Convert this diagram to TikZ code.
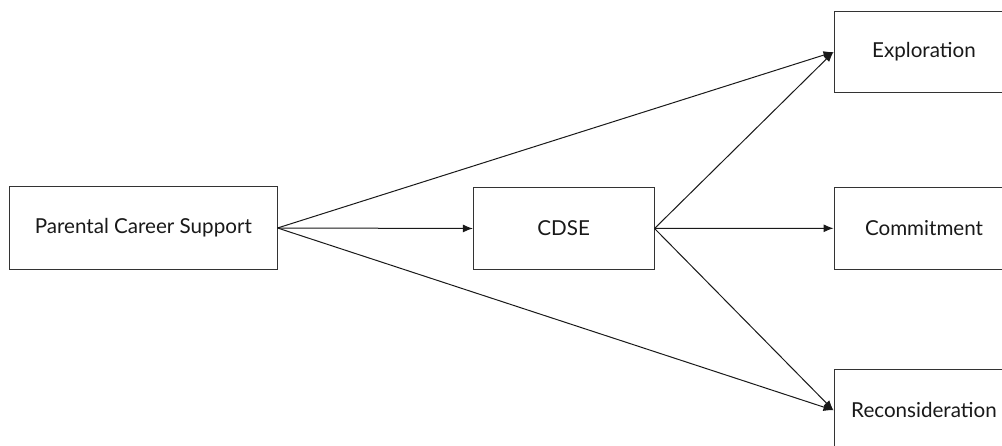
\documentclass[tikz,border=0pt]{standalone}
\usepackage{fontspec}
\setmainfont{Lato}
\usetikzlibrary{arrows.meta}
\begin{document}
\begin{tikzpicture}[x=1pt,y=1pt,
  box/.style={draw=black!80, line width=1pt, fill=white, inner sep=0pt,
    font=\fontsize{20.6}{24}\selectfont, text=black!90},
  link/.style={draw=black!90, line width=1pt, -{Latex[length=10pt,width=8pt]}}]
\useasboundingbox (0,0) rectangle (1002,446);
% boxes (y measured upward from the bottom edge)
\node[box, minimum width=267.5pt, minimum height=83pt] (pcs) at (143.3,218) {Parental Career Support};
\node[box, minimum width=180.7pt, minimum height=81.6pt] (cdse) at (563.7,217.5) {CDSE};
\node[box, minimum width=180pt, minimum height=80.3pt] (expl) at (924,394) {Exploration};
\node[box, minimum width=180pt, minimum height=82pt] (comm) at (924,217.7) {Commitment};
\node[box, minimum width=180pt, minimum height=82pt] (recon) at (924,35.7) {Reconsideration};
% paths
\draw[link] (pcs.east) -- (cdse.west);
\draw[link] (pcs.east) -- (expl.west);
\draw[link] (pcs.east) -- (recon.west);
\draw[link] (cdse.east) -- (expl.west);
\draw[link] (cdse.east) -- (comm.west);
\draw[link] (cdse.east) -- (recon.west);
\end{tikzpicture}
\end{document}
